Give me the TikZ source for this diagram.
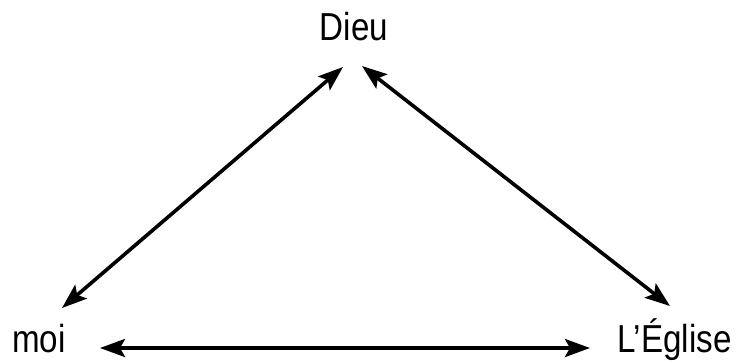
\documentclass[tikz,border=0pt]{standalone}
\usepackage{fontspec}
\setmainfont[FakeStretch=0.85]{Liberation Sans}
\usetikzlibrary{arrows.meta}
\begin{document}
\begin{tikzpicture}[x=1pt,y=-1pt,
  label/.style={font=\fontsize{39}{41}\selectfont, inner sep=0pt},
  link/.style={line width=3.6pt, {Stealth[length=25pt,width=18pt,inset=5pt]}-{Stealth[length=25pt,width=18pt,inset=5pt]}}]
  \useasboundingbox (0,0) rectangle (736,360);
  % the three terms
  \node[label, anchor=base] (dieu) at (354,40) {Dieu};
  \node[label, anchor=base west] (moi) at (12,352) {moi};
  \node[label, anchor=base west] (eglise) at (617,352) {L’Église};
  % arrow ends near each term
  \coordinate (dieuL) at (343,67);
  \coordinate (dieuR) at (362,66);
  \coordinate (moiU) at (62,308);
  \coordinate (moiR) at (100,348);
  \coordinate (eglU) at (670,306);
  \coordinate (eglL) at (590,348);
  % relations
  \draw[link] (dieuL) -- (moiU);
  \draw[link] (dieuR) -- (eglU);
  \draw[link] (moiR) -- (eglL);
\end{tikzpicture}
\end{document}
